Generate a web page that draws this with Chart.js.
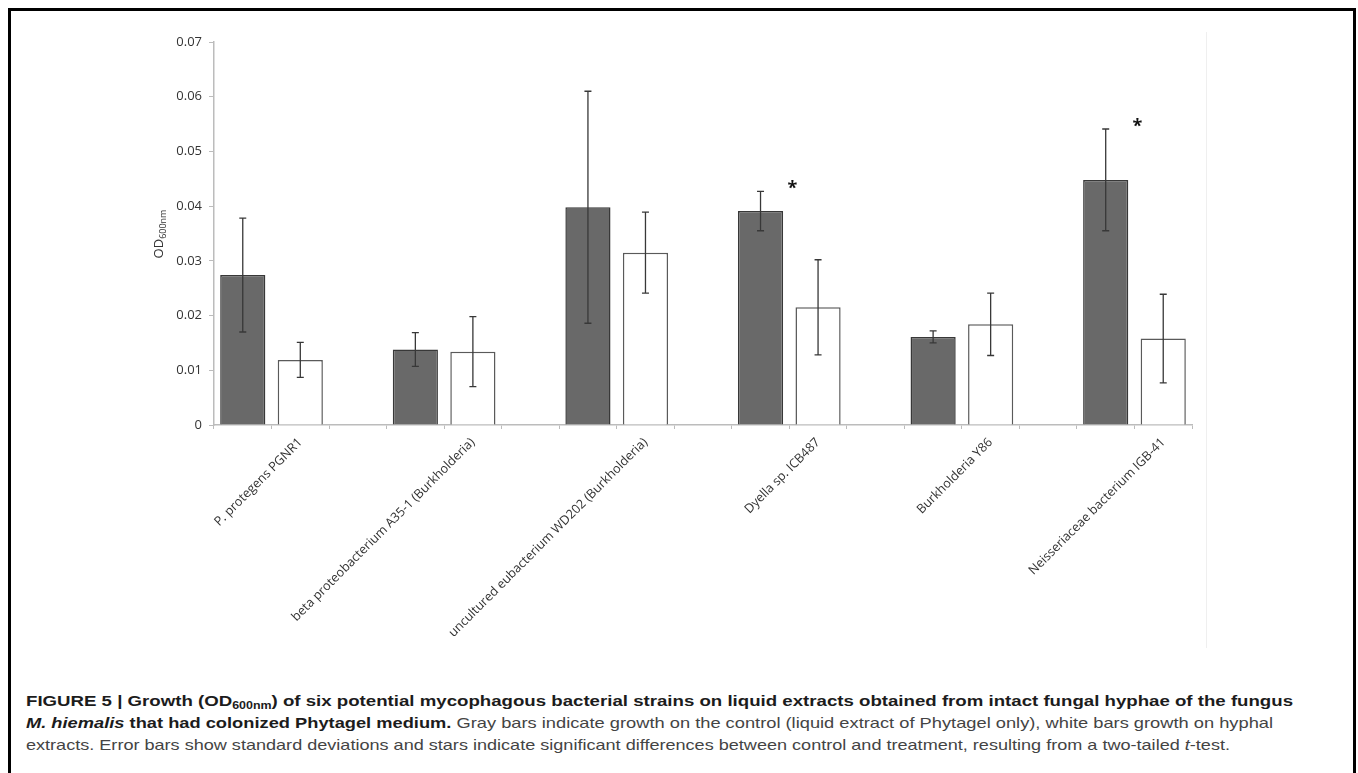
<!DOCTYPE html>
<html>
<head>
<meta charset="utf-8">
<script src="https://cdn.jsdelivr.net/npm/chart.js@4.4.0/dist/chart.umd.min.js"></script>
<style>
	html, body { margin:0; padding:0; background:#fff; }
	body { width:1358px; height:773px; position:relative; overflow:hidden; }
	#frame { position:absolute; left:8px; top:8px; width:1342px; height:800px; border:3px solid #000; border-bottom:none; }
	#plotEdge { position:absolute; left:1206px; top:32px; width:1px; height:616px; background:#efefef; }
	#myChart { position:absolute; left:0; top:0; }
	.cap { position:absolute; left:26px; white-space:nowrap; font-family:"Liberation Sans", Arial, sans-serif; font-size:15px; line-height:22px; color:#444; transform-origin:0 0; }
	.cap b { color:#1c1c1c; }
	.cap sub { font-size:10px; vertical-align:-3px; line-height:0; }
</style>
</head>
<body>
<div id="frame"></div>
<div id="plotEdge"></div>
<canvas id="myChart" width="1358" height="680"></canvas>

<div class="cap" id="cap1" data-end="1293" style="top:690px"><b>FIGURE 5 | Growth (OD<sub>600nm</sub>) of six potential mycophagous bacterial strains on liquid extracts obtained from intact fungal hyphae of the fungus</b></div>
<div class="cap" id="cap2" data-end="1273" style="top:712px"><b><i>M. hiemalis</i> that had colonized Phytagel medium.</b> Gray bars indicate growth on the control (liquid extract of Phytagel only), white bars growth on hyphal</div>
<div class="cap" id="cap3" data-end="1230" style="top:734px">extracts. Error bars show standard deviations and stars indicate significant differences between control and treatment, resulting from a two-tailed <i>t</i>-test.</div>

<script>
/* values */
var strains = [
	"P. protegens PGNR1",
	"beta proteobacterium A35-1 (Burkholderia)",
	"uncultured eubacterium WD202 (Burkholderia)",
	"Dyella sp. ICB487",
	"Burkholderia Y86",
	"Neisseriaceae bacterium IGB-41"
];
var controlOD = [0.0274, 0.0138, 0.0398, 0.0391, 0.0161, 0.0448];
var controlSD = [0.0104, 0.0031, 0.0212, 0.0036, 0.0011, 0.0093];
var hyphalOD  = [0.0119, 0.0134, 0.0315, 0.0215, 0.0184, 0.0158];
var hyphalSD  = [0.0032, 0.0064, 0.0074, 0.0087, 0.0057, 0.0081];
var significant = [false, false, false, true, false, true];
var yMin = 0, yMax = 0.07, yStep = 0.01;

/* the excel chart has three slots per strain: control, hyphal, empty */
var slotLabels = [], controlSlots = [], hyphalSlots = [], controlErr = [], hyphalErr = [];
strains.forEach(function(name, i){
	slotLabels.push("", name);
	controlSlots.push(controlOD[i], null);
	hyphalSlots.push(null, hyphalOD[i]);
	controlErr.push(controlSD[i], null);
	hyphalErr.push(null, hyphalSD[i]);
	if(i < strains.length - 1){
		slotLabels.push("");
		controlSlots.push(null);
		hyphalSlots.push(null);
		controlErr.push(null);
		hyphalErr.push(null);
	}
});

var axisGray = "#bcbcbc";
var textGray = "#333333";

// error bars + significance stars
var errorBars = {
	id: "errorBars",
	afterDatasetsDraw: function(chart){
		var ctx = chart.ctx, y = chart.scales.y;
		var errs = [controlErr, hyphalErr];
		ctx.save();
		ctx.strokeStyle = "#383838";
		ctx.lineWidth = 1.3;
		chart.data.datasets.forEach(function(ds, d){
			chart.getDatasetMeta(d).data.forEach(function(bar, k){
				var v = ds.data[k];
				if(v === null) return;
				var sd = errs[d][k];
				var top = y.getPixelForValue(v + sd), bot = y.getPixelForValue(v - sd);
				ctx.beginPath();
				ctx.moveTo(bar.x, top); ctx.lineTo(bar.x, bot);
				ctx.moveTo(bar.x - 3.5, top); ctx.lineTo(bar.x + 3.5, top);
				ctx.moveTo(bar.x - 3.5, bot); ctx.lineTo(bar.x + 3.5, bot);
				ctx.stroke();
			});
		});

		var darkMeta = chart.getDatasetMeta(0), whiteMeta = chart.getDatasetMeta(1);
		ctx.fillStyle = "#111";
		ctx.font = "bold 18px 'Open Sans'";
		ctx.textAlign = "center";
		ctx.textBaseline = "alphabetic";
		strains.forEach(function(name, i){
			if(!significant[i]) return;
			var dark = darkMeta.data[3 * i], white = whiteMeta.data[3 * i + 1];
			var sx = (dark.x + white.x) / 2 + 3;
			var sy = y.getPixelForValue(controlOD[i] + controlSD[i]) - 7;
			ctx.fillText("*", sx, sy + 10);
		});
		ctx.restore();
	}
};

// y axis title with subscript
var yTitle = {
	id: "yTitle",
	afterDraw: function(chart){
		var ctx = chart.ctx;
		ctx.save();
		ctx.translate(163, 234);
		ctx.rotate(-Math.PI / 2);
		ctx.fillStyle = textGray;
		ctx.textBaseline = "alphabetic";
		ctx.font = "13px 'Open Sans'";
		var w1 = ctx.measureText("OD").width;
		ctx.font = "9px 'Open Sans'";
		var w2 = ctx.measureText("600nm").width;
		var x0 = -(w1 + w2) / 2;
		ctx.font = "13px 'Open Sans'";
		ctx.fillText("OD", x0, 0);
		ctx.font = "9px 'Open Sans'";
		ctx.fillText("600nm", x0 + w1, 3);
		ctx.restore();
	}
};

var canvas = document.getElementById("myChart");
var plot = new Chart(canvas.getContext("2d"), {
	type: "bar",
	data: {
		labels: slotLabels,
		datasets: [{
			label: "Control",
			data: controlSlots,
			backgroundColor: "#696969",
			borderColor: "#383838",
			borderWidth: 1.5,
			grouped: false,
			categoryPercentage: 1,
			barPercentage: 0.785
		}, {
			label: "Hyphal extract",
			data: hyphalSlots,
			backgroundColor: "#ffffff",
			borderColor: "#5a5a5a",
			borderWidth: 1.5,
			grouped: false,
			categoryPercentage: 1,
			barPercentage: 0.785
		}]
	},
	options: {
		responsive: false,
		animation: false,
		devicePixelRatio: 1,
		layout: { padding: { left: 170, top: 42, right: 166, bottom: 0 } },
		plugins: { legend: { display: false }, tooltip: { enabled: false } },
		scales: {
			x: {
				offset: true,
				afterFit: function(scale){ scale.height = 255; },
				grid: { offset: true, drawOnChartArea: false, drawTicks: true, tickLength: 4, color: axisGray },
				border: { color: axisGray, width: 1.5 },
				ticks: {
					autoSkip: false,
					minRotation: 45,
					maxRotation: 45,
					padding: 6,
					color: textGray,
					font: { family: "'Open Sans'", size: 12.6 }
				}
			},
			y: {
				min: yMin,
				max: yMax,
				afterFit: function(scale){ scale.width = 44; },
				grid: { drawOnChartArea: false, drawTicks: true, tickLength: 5, color: axisGray },
				border: { color: axisGray, width: 1.5 },
				ticks: {
					stepSize: yStep,
					padding: 7,
					color: textGray,
					font: { family: "'Open Sans'", size: 13 },
					callback: function(v){ return v === 0 ? "0" : v.toFixed(2); }
				}
			}
		}
	},
	plugins: [errorBars, yTitle]
});

/* stretch each caption line to the width it has in the figure */
["cap1", "cap2", "cap3"].forEach(function(id){
	var el = document.getElementById(id);
	var natural = el.getBoundingClientRect().width;
	var target = parseFloat(el.getAttribute("data-end")) - 26;
	el.style.transform = "scaleX(" + (target / natural).toFixed(4) + ")";
});
</script>
</body>
</html>
